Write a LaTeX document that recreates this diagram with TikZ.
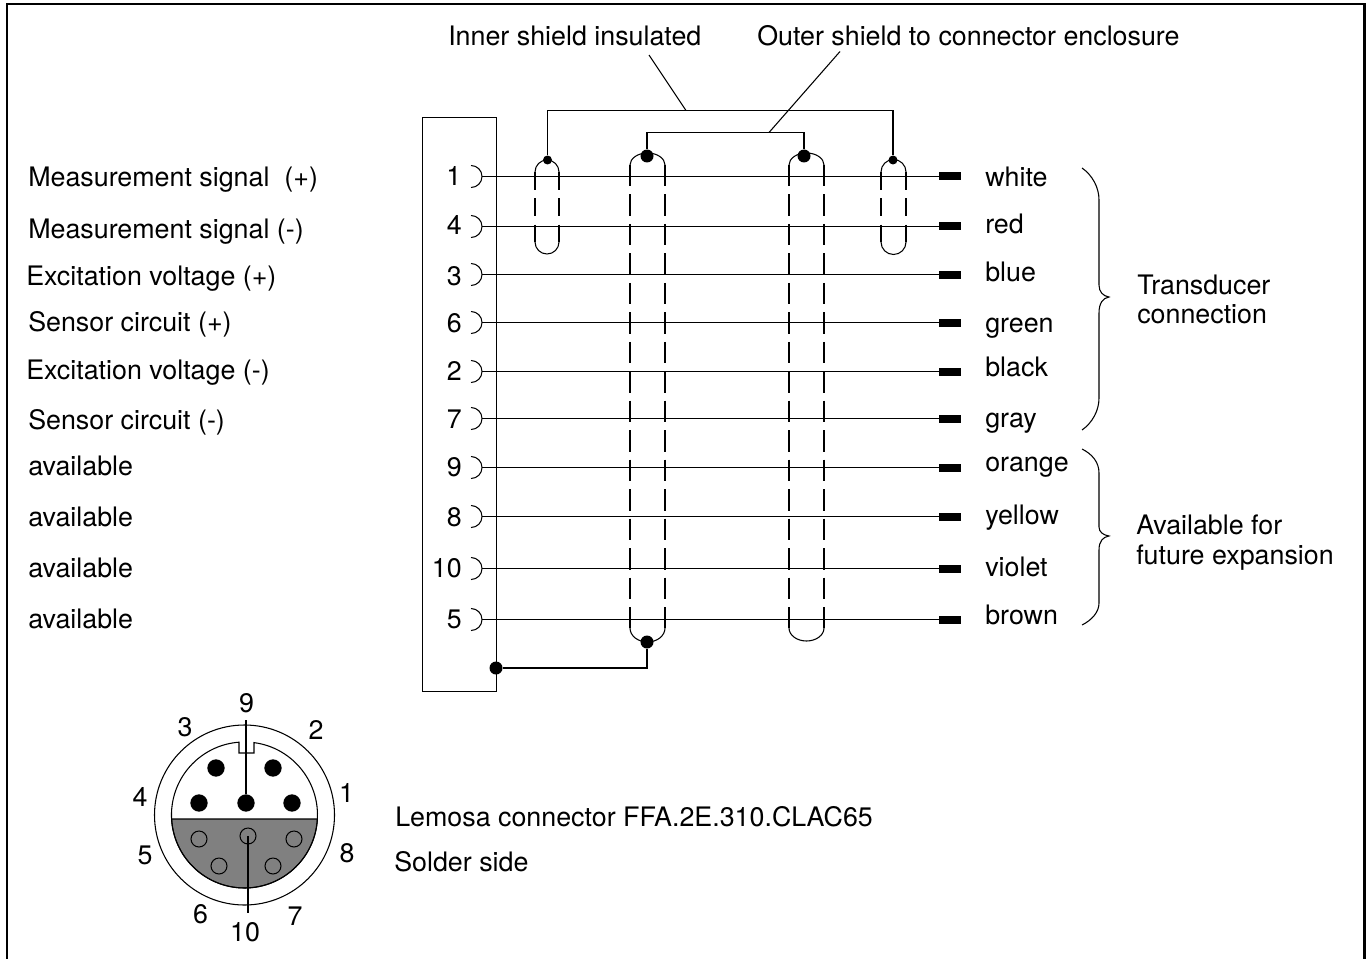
\documentclass[tikz,border=0pt]{standalone}
\usepackage{fontspec}
\setmainfont{TeX Gyre Heros}
\tikzset{
  wire/.style={line width=1.15pt},
  thinwire/.style={line width=0.8pt},
  shielddash/.style={line width=0.8pt, dash pattern=on 16.1pt off 6pt},
  innerdash/.style={line width=0.8pt, dash pattern=on 13.5pt off 6.2pt},
  lead/.style={fill=black, minimum width=16.5pt, minimum height=6pt, inner sep=0pt},
  bigdot/.style={circle, fill=black, minimum size=9.75pt, inner sep=0pt},
  smalldot/.style={circle, fill=black, minimum size=6.75pt, inner sep=0pt},
  solidpin/.style={circle, fill=black, minimum size=13pt, inner sep=0pt},
  openpin/.style={circle, draw, line width=0.75pt, minimum size=12pt, inner sep=0pt},
  txt/.style={anchor=base west, inner sep=0pt, font=\fontsize{20.12}{24}\selectfont},
  num/.style={anchor=base east, inner sep=0pt, font=\fontsize{20.12}{24}\selectfont},
  pinnum/.style={inner sep=0pt, font=\fontsize{20.12}{24}\selectfont}
}
\begin{document}
\begin{tikzpicture}[x=0.75pt, y=-0.75pt]
\useasboundingbox (0, 0) rectangle (1369, 959);
% frame
\draw [line width=1.9pt] (7, 959) -- (7, 4) -- (1364.5, 4) -- (1364.5, 959);
% plug block
\draw [wire] (422.5, 117.5) rectangle (496.5, 691.5);
% leads
\node [lead] (leadA) at (950, 176.5) {};
\node [lead] (leadB) at (950, 226.5) {};
\node [lead] (leadC) at (950, 274.5) {};
\node [lead] (leadD) at (950, 322.5) {};
\node [lead] (leadE) at (950, 371.5) {};
\node [lead] (leadF) at (950, 418.5) {};
\node [lead] (leadG) at (950, 467.5) {};
\node [lead] (leadH) at (950, 516.5) {};
\node [lead] (leadI) at (950, 568.5) {};
\node [lead] (leadJ) at (950, 619.5) {};
% pins
\coordinate (pinA) at (482, 176.5);
\coordinate (pinB) at (482, 226.5);
\coordinate (pinC) at (482, 274.5);
\coordinate (pinD) at (482, 322.5);
\coordinate (pinE) at (482, 371.5);
\coordinate (pinF) at (482, 418.5);
\coordinate (pinG) at (482, 467.5);
\coordinate (pinH) at (482, 516.5);
\coordinate (pinI) at (482, 568.5);
\coordinate (pinJ) at (482, 619.5);
\draw [wire] (pinA) -- (leadA);
\draw [wire] (pinB) -- (leadB);
\draw [wire] (pinC) -- (leadC);
\draw [wire] (pinD) -- (leadD);
\draw [wire] (pinE) -- (leadE);
\draw [wire] (pinF) -- (leadF);
\draw [wire] (pinG) -- (leadG);
\draw [wire] (pinH) -- (leadH);
\draw [wire] (pinI) -- (leadI);
\draw [wire] (pinJ) -- (leadJ);
\draw [thinwire] (471, 165.5) arc(-90:90:11);
\draw [thinwire] (471, 215.5) arc(-90:90:11);
\draw [thinwire] (471, 263.5) arc(-90:90:11);
\draw [thinwire] (471, 311.5) arc(-90:90:11);
\draw [thinwire] (471, 360.5) arc(-90:90:11);
\draw [thinwire] (471, 407.5) arc(-90:90:11);
\draw [thinwire] (471, 456.5) arc(-90:90:11);
\draw [thinwire] (471, 505.5) arc(-90:90:11);
\draw [thinwire] (471, 557.5) arc(-90:90:11);
\draw [thinwire] (471, 608.5) arc(-90:90:11);
% inner shields
\draw [thinwire] (535, 172) arc(180:360:12);
\draw [thinwire] (535, 242) arc(180:0:12);
\draw [innerdash] (535, 172) -- (535, 242);
\draw [innerdash] (559, 172) -- (559, 242);
\draw [thinwire] (881, 172) arc(180:360:12.5);
\draw [thinwire] (881, 242) arc(180:0:12.5);
\draw [innerdash] (881, 172) -- (881, 242);
\draw [innerdash] (906, 172) -- (906, 242);
% outer shields
\draw [thinwire] (630, 165) arc(180:360:17.5 and 12);
\draw [thinwire] (630, 628) arc(180:0:17.5 and 14);
\draw [shielddash] (630, 165) -- (630, 628);
\draw [shielddash] (665, 165) -- (665, 628);
\draw [thinwire] (789, 165) arc(180:360:17.5 and 12);
\draw [thinwire] (789, 628) arc(180:0:17.5 and 13);
\draw [shielddash] (789, 165) -- (789, 628);
\draw [shielddash] (824, 165) -- (824, 628);
% shield joints
\node [smalldot] (innerL) at (547.5, 160) {};
\node [smalldot] (innerR) at (893, 160) {};
\node [bigdot] (outerL) at (647, 156) {};
\node [bigdot] (outerR) at (804, 156) {};
\node [bigdot] (outerB) at (647, 642) {};
\node [bigdot] (plugB) at (496, 668) {};
\coordinate (innertop) at (686, 110.5);
\coordinate (outertop) at (769, 132.5);
\coordinate (innerend) at (649, 55);
\coordinate (outerend) at (840, 51.5);
\draw [wire] (innerL) |- (innertop) -| (innerR);
\draw [wire] (outerL) |- (outertop) -| (outerR);
\draw [wire] (plugB) -| (outerB);
\draw [thinwire] (innertop) -- (innerend);
\draw [thinwire] (outertop) -- (outerend);
% braces
\draw [thinwire] (1082, 168) .. controls (1092, 175) and (1099, 187) .. (1099, 200) -- (1099, 285) .. controls (1099, 292) and (1103, 296) .. (1109, 297) .. controls (1103, 298) and (1099, 303) .. (1099, 313) -- (1099, 398) .. controls (1099, 411) and (1092, 423) .. (1082, 430);
\draw [thinwire] (1082, 449) .. controls (1092, 454) and (1099, 462) .. (1099, 473) -- (1099, 527) .. controls (1099, 532) and (1103, 535) .. (1109, 536) .. controls (1103, 537) and (1099, 541) .. (1099, 550) -- (1099, 603) .. controls (1099, 612) and (1092, 620) .. (1082, 625);
%connector
\draw [thinwire, fill=black!50] (317.4, 819) arc(3.14:176.86:73) -- cycle;
\draw [thinwire] (244.5, 725) arc(-90:270:90);
\draw [thinwire] (254, 742.6) arc(277.5:625.7:73) -- (239, 753) -- (254, 753) -- cycle;
\node [solidpin] (plugA) at (216, 768) {};
\node [solidpin] (plugC) at (273, 768) {};
\node [solidpin] (plugD) at (199, 803) {};
\node [solidpin] (plugE) at (246, 803) {};
\node [solidpin] (plugF) at (292, 803) {};
\node [openpin] (plugG) at (199, 839) {};
\node [openpin] (plugH) at (248, 836) {};
\node [openpin] (plugI) at (294, 839) {};
\node [openpin] (plugJ) at (219, 866) {};
\node [openpin] (plugK) at (273, 866) {};
\coordinate (plugtop) at (246, 720);
\coordinate (plugbot) at (248, 913);
\draw [thinwire] (plugtop) -- (plugE);
\draw [thinwire] (plugH.center) -- (plugbot);
%Text
\node [pinnum] (conA) at (246.5, 703) {9};
\node [pinnum] (conB) at (185, 727.5) {3};
\node [pinnum] (conC) at (316, 729.5) {2};
\node [pinnum] (conD) at (140, 796.5) {4};
\node [pinnum] (conE) at (346.5, 793) {1};
\node [pinnum] (conF) at (145, 855.5) {5};
\node [pinnum] (conG) at (347, 853.5) {8};
\node [pinnum] (conH) at (200.5, 914.5) {6};
\node [pinnum] (conI) at (295, 916.5) {7};
\node [pinnum] (conJ) at (245, 932.5) {10};
\node [num] (numA) at (461.5, 186) {1};
\node [num] (numB) at (462, 234) {4};
\node [num] (numC) at (462, 285) {3};
\node [num] (numD) at (462, 332) {6};
\node [num] (numE) at (462, 380) {2};
\node [num] (numF) at (462, 428) {7};
\node [num] (numG) at (462, 476) {9};
\node [num] (numH) at (462, 526) {8};
\node [num] (numI) at (462, 577) {10};
\node [num] (numJ) at (462, 628) {5};
\node [txt] (sigA) at (28, 186.7) {Measurement signal\ \ (+)};
\node [txt] (sigB) at (28, 238.7) {Measurement signal (-)};
\node [txt] (sigC) at (26, 285) {Excitation voltage (+)};
\node [txt] (sigD) at (28, 331) {Sensor circuit (+)};
\node [txt] (sigE) at (26, 379) {Excitation voltage (-)};
\node [txt] (sigF) at (28, 429) {Sensor circuit (-)};
\node [txt] (sigG) at (28, 475) {available};
\node [txt] (sigH) at (28, 526) {available};
\node [txt] (sigI) at (28, 577) {available};
\node [txt] (sigJ) at (28, 628) {available};
\node [txt] (colA) at (985, 186.7) {white};
\node [txt] (colB) at (985, 233.7) {red};
\node [txt] (colC) at (985, 281) {blue};
\node [txt] (colD) at (985, 332) {green};
\node [txt] (colE) at (985, 376) {black};
\node [txt] (colF) at (985, 427.3) {gray};
\node [txt] (colG) at (985, 471.3) {orange};
\node [txt] (colH) at (985, 524) {yellow};
\node [txt] (colI) at (985, 576) {violet};
\node [txt] (colJ) at (985, 624) {brown};
\node [txt] (transA) at (1137, 294) {Transducer};
\node [txt] (transB) at (1137, 323) {connection};
\node [txt] (availA) at (1136, 534) {Available for};
\node [txt] (availB) at (1136, 564) {future expansion};
\node [txt] (innerlabel) at (448, 45.7) {Inner shield insulated};
\node [txt] (outerlabel) at (757, 45.7) {Outer shield to connector enclosure};
\node [txt] (lemosa) at (395, 826) {Lemosa connector FFA.2E.310.CLAC65};
\node [txt] (solder) at (394, 871) {Solder side};
\end{tikzpicture}
\end{document}
